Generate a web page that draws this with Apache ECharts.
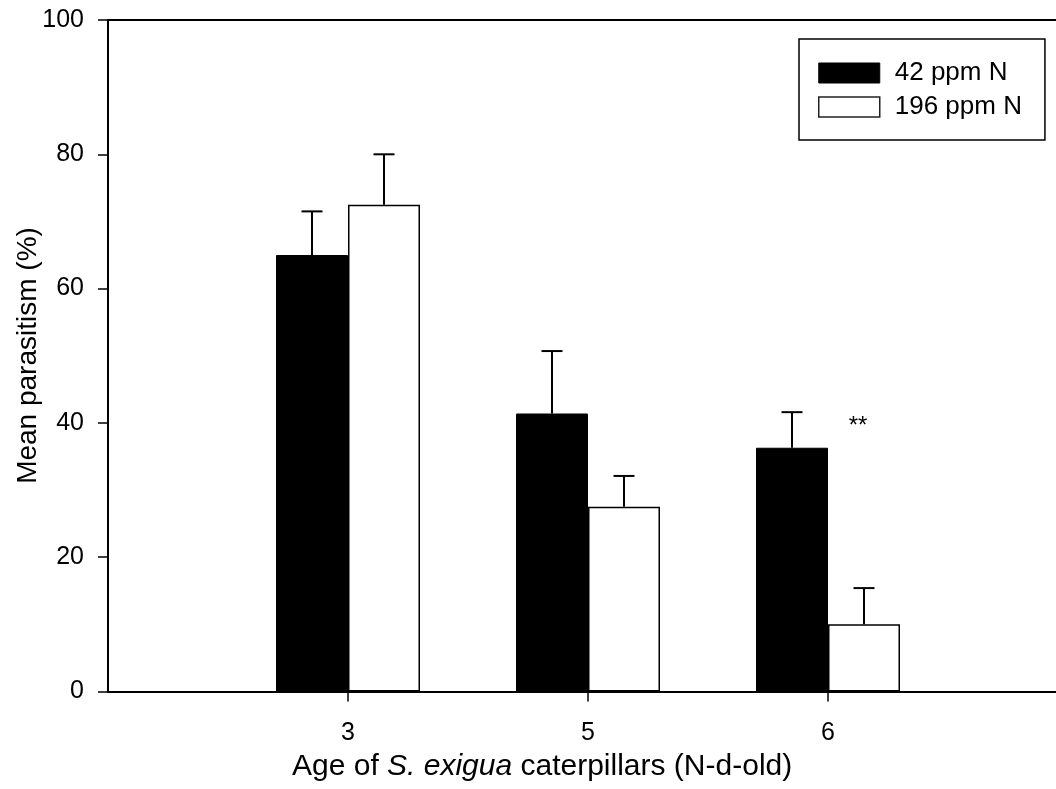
<!DOCTYPE html>
<html>
<head>
<meta charset="utf-8">
<title>Mean parasitism by caterpillar age</title>
<script src="https://cdn.jsdelivr.net/npm/echarts@6/dist/echarts.min.js"></script>
<style>
  html, body { margin: 0; padding: 0; background: #fff; }
  #chart { width: 1056px; height: 789px; }
</style>
</head>
<body>
<div id="chart"></div>
<script>
// Caterpillar ages (days) and their slot positions on the x scale
const AGES = ['3', '5', '6'];
const AGE_POS = [1, 2, 3];
const X_MAX = 3.95;

// Mean parasitism (%) and standard errors for each nitrogen treatment
const LOW_N_MEAN = [65.0, 41.4, 36.3];
const LOW_N_ERR = [6.5, 9.3, 5.3];
const HIGH_N_MEAN = [72.5, 27.5, 10.0];
const HIGH_N_ERR = [7.5, 4.6, 5.4];

// Significance marks: [age slot, height (%), text]
const SIG_MARKS = [[3, 40, '**']];

// Y-axis ticks
const Y_MIN = 0, Y_MAX = 100, Y_STEP = 20;

const FONT = '"Liberation Sans", Arial, Helvetica, sans-serif';
const BAR_W = 72;
const CAP_HALF = 10.5;

const chart = echarts.init(document.getElementById('chart'), null, { renderer: 'canvas' });

function errorBars(means, errs, dx) {
  return {
    type: 'custom',
    z: 5,
    silent: true,
    data: AGE_POS.map((p, i) => [p, means[i], errs[i]]),
    renderItem: function (params, api) {
      const x = api.value(0), m = api.value(1), e = api.value(2);
      const base = api.coord([x, m]);
      const top = api.coord([x, m + e]);
      const cx = base[0] + dx;
      const st = { stroke: '#000', lineWidth: 2 };
      return {
        type: 'group',
        children: [
          { type: 'line', shape: { x1: cx, y1: base[1], x2: cx, y2: top[1] }, style: st },
          { type: 'line', shape: { x1: cx - CAP_HALF, y1: top[1], x2: cx + CAP_HALF, y2: top[1] }, style: st }
        ]
      };
    }
  };
}

const option = {
  animation: false,
  backgroundColor: '#fff',
  textStyle: { fontFamily: FONT, color: '#000' },
  grid: { left: 108, right: 0, top: 20, bottom: 97.5 },
  legend: {
    left: 799, top: 39,
    orient: 'vertical',
    padding: [21, 23, 20, 19],
    itemGap: 8,
    itemWidth: 61, itemHeight: 20,
    borderColor: '#000', borderWidth: 1.5,
    textStyle: { fontFamily: FONT, fontSize: 26, color: '#000', padding: [0, 0, 0, 10] },
    data: [
      { name: '42 ppm N', icon: 'rect', itemStyle: { color: '#000', borderColor: '#000', borderWidth: 1 } },
      { name: '196 ppm N', icon: 'rect', itemStyle: { color: '#fff', borderColor: '#222', borderWidth: 1.5 } }
    ]
  },
  xAxis: [
    {
      type: 'value', min: 0, max: X_MAX,
      axisLine: { show: true, lineStyle: { color: '#000', width: 2 } },
      axisTick: { show: true, customValues: AGE_POS, length: 10, lineStyle: { color: '#000', width: 1.5 } },
      axisLabel: {
        customValues: AGE_POS,
        formatter: v => AGES[AGE_POS.indexOf(v)] || '',
        fontFamily: FONT, fontSize: 25, color: '#000', margin: 29
      },
      splitLine: { show: false }
    },
    {
      // top frame line
      type: 'value', position: 'top', min: 0, max: X_MAX,
      axisLine: { show: true, onZero: false, lineStyle: { color: '#000', width: 2 } },
      axisTick: { show: false },
      axisLabel: { show: false },
      splitLine: { show: false }
    }
  ],
  yAxis: {
    type: 'value', min: Y_MIN, max: Y_MAX, interval: Y_STEP,
    axisLine: { show: true, lineStyle: { color: '#000', width: 2 } },
    axisTick: { show: true, length: 10, lineStyle: { color: '#000', width: 1.5 } },
    axisLabel: { fontFamily: FONT, fontSize: 25, color: '#000', margin: 24 },
    splitLine: { show: false }
  },
  series: [
    {
      name: '42 ppm N', type: 'bar',
      barWidth: BAR_W, barGap: '0%',
      itemStyle: { color: '#000', borderColor: '#000', borderWidth: 1 },
      data: AGE_POS.map((p, i) => [p, LOW_N_MEAN[i]])
    },
    {
      name: '196 ppm N', type: 'bar',
      barWidth: BAR_W, barGap: '0%',
      itemStyle: { color: '#fff', borderColor: '#000', borderWidth: 1.5 },
      data: AGE_POS.map((p, i) => [p, HIGH_N_MEAN[i]])
    },
    errorBars(LOW_N_MEAN, LOW_N_ERR, -BAR_W / 2),
    errorBars(HIGH_N_MEAN, HIGH_N_ERR, BAR_W / 2),
    {
      type: 'custom',
      z: 6, silent: true,
      data: SIG_MARKS,
      renderItem: function (params, api) {
        const pt = api.coord([api.value(0), api.value(1)]);
        return {
          type: 'text',
          x: pt[0] + 30, y: pt[1] + 3,
          style: {
            text: SIG_MARKS[params.dataIndex][2],
            fontFamily: FONT, fontSize: 24, fill: '#000',
            align: 'center', verticalAlign: 'middle'
          }
        };
      }
    }
  ],
  graphic: [
    {
      type: 'text',
      x: 292, y: 752,
      style: {
        text: 'Age of {i|S. exigua} caterpillars (N-d-old)',
        fontFamily: FONT, fontSize: 30, fill: '#000',
        rich: { i: { fontFamily: FONT, fontSize: 30, fontStyle: 'italic', fill: '#000' } }
      }
    },
    {
      type: 'text',
      rotation: Math.PI / 2,
      style: {
        text: 'Mean parasitism (%)',
        fontFamily: FONT, fontSize: 28, fill: '#000',
        align: 'center', verticalAlign: 'middle'
      },
      x: 28, y: 355.5
    }
  ]
};

chart.setOption(option);
</script>
</body>
</html>
